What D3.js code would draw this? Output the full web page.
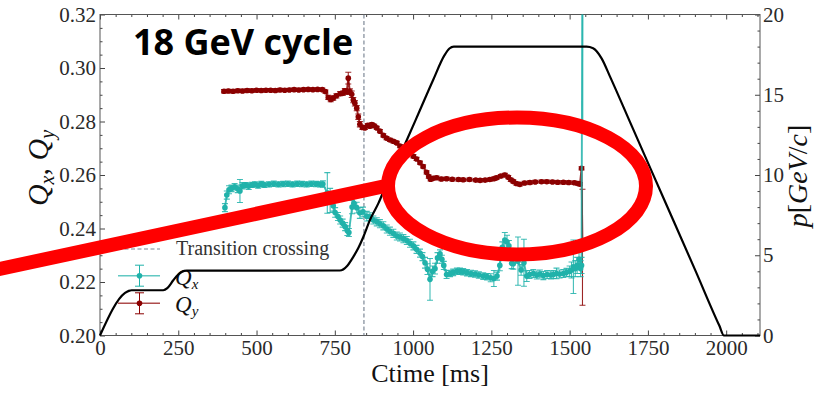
<!DOCTYPE html>
<html lang="en">
<head>
<meta charset="UTF-8">
<title>18 GeV cycle tunes</title>
<script src="https://cdn.jsdelivr.net/npm/d3@7/dist/d3.min.js"></script>
<style>
  body { margin: 0; background: #fff; }
  .tick text { font-family: "Liberation Serif", serif; font-size: 21px; fill: #2a2a2a; }
  .lbl { font-family: "Liberation Serif", serif; fill: #111; }
</style>
</head>
<body>
<svg id="main" width="833" height="393"></svg>
<script>
// ---- data ----
const xTicks = [0, 250, 500, 750, 1000, 1250, 1500, 1750, 2000];
const qTicks = [0.20, 0.22, 0.24, 0.26, 0.28, 0.30, 0.32];
const pTicks = [0, 5, 10, 15, 20];
const transitionTime = 843;

// Qx (horizontal tune)
const tQx = [399,405,412,420,430,440,447,455,465,475,485,495,505,515,525,540,555,570,585,600,615,630,645,660,675,690,703,712,726,735,745,751,760,767,775,783,790,795,805,811,820,830,840,852,862,873,884,894,905,916,926,937,948,958,969,980,990,1001,1011,1022,1030,1038,1046,1054,1062,1070,1078,1086,1092,1098,1107,1118,1128,1140,1150,1160,1172,1185,1198,1210,1224,1236,1248,1258,1268,1277,1285,1293,1300,1306,1315,1320,1335,1345,1354,1363,1372,1384,1395,1405,1416,1428,1440,1448,1458,1468,1480,1490,1500,1506,1512,1518,1524,1530,1535,1538,1542];
const qx = [0.2478,0.2525,0.2545,0.2550,0.2556,0.2548,0.2540,0.2560,0.2562,0.2558,
  0.2563,0.2565,0.2561,0.2566,0.2563,0.2565,0.2567,0.2565,0.2566,0.2567,
  0.2565,0.2567,0.2566,0.2565,0.2567,0.2566,0.2565,0.2566,0.2533,0.2505,
  0.2485,0.2460,0.2445,0.2432,0.2420,0.2407,0.2392,0.2385,0.2480,0.2494,
  0.2478,0.2458,0.2462,0.2446,0.2444,0.2432,0.2425,0.2418,0.2410,0.2398,
  0.2390,0.2382,0.2372,0.2368,0.2362,0.2355,0.2345,0.2335,0.2322,0.2308,
  0.2295,0.2272,0.2248,0.2210,0.2240,0.2250,0.2290,0.2305,0.2285,0.2262,
  0.2228,0.2232,0.2236,0.2240,0.2240,0.2238,0.2235,0.2232,0.2230,0.2226,
  0.2222,0.2220,0.2216,0.2213,0.2222,0.2262,0.2330,0.2357,0.2350,0.2335,
  0.2270,0.2268,0.2278,0.2245,0.2272,0.2222,0.2228,0.2232,0.2226,0.2230,
  0.2224,0.2228,0.2226,0.2228,0.2232,0.2230,0.2232,0.2236,0.2240,0.2245,
  0.2257,0.2250,0.2262,0.2285,0.2250,0.2262,0.4000];
const qxErr = [0.0015,0.0015,0.0015,0.0012,0.0012,0.0014,0.0043,0.0012,0.0010,0.0012,
  0.0010,0.0010,0.0010,0.0010,0.0010,0.0010,0.0010,0.0010,0.0010,0.0010,
  0.0010,0.0010,0.0010,0.0010,0.0010,0.0010,0.0010,0.0012,0.0076,0.0045,
  0.0020,0.0018,0.0015,0.0015,0.0015,0.0015,0.0018,0.0015,0.0025,0.0020,
  0.0020,0.0020,0.0018,0.0018,0.0015,0.0015,0.0015,0.0015,0.0015,0.0015,
  0.0015,0.0015,0.0015,0.0015,0.0015,0.0015,0.0015,0.0015,0.0015,0.0015,
  0.0015,0.0020,0.0020,0.0078,0.0020,0.0020,0.0020,0.0015,0.0015,0.0015,
  0.0015,0.0012,0.0012,0.0012,0.0012,0.0012,0.0012,0.0012,0.0012,0.0012,
  0.0012,0.0012,0.0015,0.0030,0.0015,0.0020,0.0020,0.0028,0.0025,0.0020,
  0.0020,0.0020,0.0090,0.0020,0.0088,0.0020,0.0015,0.0015,0.0015,0.0015,
  0.0015,0.0015,0.0015,0.0015,0.0020,0.0015,0.0015,0.0015,0.0020,0.0030,
  0.0100,0.0030,0.0030,0.0030,0.0030,0.0030,0.1242];

// Qy (vertical tune)
const tQy = [396,410,425,440,455,470,485,500,515,530,545,560,575,590,605,620,635,650,665,680,695,710,720,729,737,745,755,767,776,782,788,793,798,804,809,814,820,825,830,838,846,855,862,868,876,884,894,905,915,926,937,948,958,969,980,990,1001,1011,1022,1032,1043,1050,1056,1064,1075,1090,1107,1125,1145,1160,1180,1200,1214,1230,1245,1258,1267,1280,1293,1304,1312,1320,1330,1341,1356,1373,1390,1410,1427,1445,1462,1480,1497,1515,1527,1533,1538,1541];
const qy = [0.2913,0.2914,0.2913,0.2915,0.2914,0.2916,0.2915,0.2917,0.2916,0.2917,
  0.2917,0.2916,0.2918,0.2917,0.2918,0.2919,0.2918,0.2919,0.2920,0.2919,
  0.2920,0.2919,0.2912,0.2890,0.2882,0.2888,0.2896,0.2904,0.2906,0.2915,
  0.2910,0.2962,0.2912,0.2902,0.2880,0.2868,0.2850,0.2818,0.2790,0.2778,
  0.2776,0.2786,0.2782,0.2789,0.2784,0.2776,0.2764,0.2748,0.2738,0.2731,
  0.2726,0.2720,0.2708,0.2700,0.2692,0.2682,0.2670,0.2660,0.2646,0.2632,
  0.2610,0.2594,0.2584,0.2588,0.2590,0.2585,0.2586,0.2584,0.2583,0.2582,
  0.2583,0.2581,0.2580,0.2581,0.2583,0.2586,0.2590,0.2596,0.2600,0.2592,
  0.2582,0.2576,0.2568,0.2565,0.2570,0.2572,0.2574,0.2575,0.2575,0.2574,
  0.2573,0.2573,0.2572,0.2571,0.2568,0.2566,0.2625,0.2330];
const qyErr = [0.0006,0.0006,0.0006,0.0006,0.0006,0.0006,0.0006,0.0006,0.0006,0.0006,
  0.0006,0.0006,0.0006,0.0006,0.0006,0.0006,0.0006,0.0006,0.0006,0.0006,
  0.0006,0.0006,0.0006,0.0008,0.0008,0.0008,0.0008,0.0008,0.0008,0.0008,
  0.0008,0.0022,0.0010,0.0012,0.0010,0.0010,0.0010,0.0010,0.0010,0.0008,
  0.0006,0.0006,0.0006,0.0006,0.0006,0.0006,0.0006,0.0006,0.0006,0.0006,
  0.0006,0.0006,0.0006,0.0006,0.0006,0.0006,0.0006,0.0006,0.0006,0.0006,
  0.0006,0.0006,0.0006,0.0006,0.0006,0.0006,0.0006,0.0006,0.0006,0.0006,
  0.0006,0.0006,0.0006,0.0006,0.0006,0.0006,0.0006,0.0006,0.0006,0.0006,
  0.0006,0.0006,0.0006,0.0006,0.0006,0.0006,0.0006,0.0006,0.0006,0.0006,
  0.0006,0.0006,0.0006,0.0006,0.0006,0.0006,0.0006,0.0217];

// momentum ramp p [GeV/c] (right axis)
const tP = [0,80,92,101,202,215,234,250,261,277,766,790,809,825,841,862,889,916,980,1022,1064,1100,1116,1130,1554,1575,1602,1629,1700,1800,1900,1978,1993,2108];
const pVal = [0,2.65,2.78,2.82,2.82,2.95,3.44,3.8,3.96,4.04,4.05,4.35,4.9,5.45,6.14,7.19,8.23,9.48,12.18,14.05,15.92,17.45,17.88,18.0,18.0,17.9,17.27,16.13,12.98,8.55,4.12,0.62,0,0];

// ---- layout ----
let svg = d3.select('svg#main');
let plot = {left: 100, right: 760, top: 14.5, bottom: 335.5};
const teal = '#20b2aa', maroon = '#8b0000', dashGrey = '#7d8896';

let x = d3.scaleLinear().domain([0, 2108]).range([plot.left, plot.right]);
let yQ = d3.scaleLinear().domain([0.20, 0.32]).range([plot.bottom, plot.top]);
let yP = d3.scaleLinear().domain([0, 20]).range([plot.bottom, plot.top]);

svg.append('rect').attr('width', 833).attr('height', 393).attr('fill', '#fff');
svg.append('clipPath').attr('id', 'clip')
  .append('rect')
  .attr('x', plot.left).attr('y', plot.top)
  .attr('width', plot.right - plot.left).attr('height', plot.bottom - plot.top);
// the ramp may sit on the bottom spine, give it room for its stroke
svg.append('clipPath').attr('id', 'clipP')
  .append('rect')
  .attr('x', plot.left - 2).attr('y', plot.top)
  .attr('width', plot.right - plot.left + 2).attr('height', plot.bottom - plot.top + 1.5);

// axes, ticks pointing inward
function tidy(g){
  g.select('.domain').remove();
  g.selectAll('line').attr('stroke', '#444');
  g.attr('font-family', null).attr('font-size', null);
}
let minorX = d3.range(50, 2108, 50).filter(d => d % 250 !== 0);
let minorQ = d3.range(1, 24).filter(k => k % 4 !== 0).map(k => 0.20 + k * 0.005);
let minorP = d3.range(1, 20, 1).filter(d => d % 5 !== 0);

svg.append('g').attr('transform', `translate(0,${plot.bottom})`)
  .call(d3.axisBottom(x).tickValues(xTicks).tickSizeInner(-5).tickSizeOuter(0).tickPadding(5).tickFormat(d3.format('d')))
  .call(tidy);
svg.append('g').attr('transform', `translate(0,${plot.bottom})`)
  .call(d3.axisBottom(x).tickValues(minorX).tickSizeInner(-2.5).tickSizeOuter(0).tickFormat(''))
  .call(tidy);
svg.append('g').attr('transform', `translate(0,${plot.top})`)
  .call(d3.axisTop(x).tickValues(xTicks).tickSizeInner(-5).tickSizeOuter(0).tickFormat(''))
  .call(tidy);
svg.append('g').attr('transform', `translate(0,${plot.top})`)
  .call(d3.axisTop(x).tickValues(minorX).tickSizeInner(-2.5).tickSizeOuter(0).tickFormat(''))
  .call(tidy);
svg.append('g').attr('transform', `translate(${plot.left},0)`)
  .call(d3.axisLeft(yQ).tickValues(qTicks).tickSizeInner(-5).tickSizeOuter(0).tickPadding(4).tickFormat(d3.format('.2f')))
  .call(tidy);
svg.append('g').attr('transform', `translate(${plot.left},0)`)
  .call(d3.axisLeft(yQ).tickValues(minorQ).tickSizeInner(-2.5).tickSizeOuter(0).tickFormat(''))
  .call(tidy);
svg.append('g').attr('transform', `translate(${plot.right},0)`)
  .call(d3.axisRight(yP).tickValues(pTicks).tickSizeInner(-5).tickSizeOuter(0).tickPadding(3).tickFormat(d3.format('d')))
  .call(tidy);
svg.append('g').attr('transform', `translate(${plot.right},0)`)
  .call(d3.axisRight(yP).tickValues(minorP).tickSizeInner(-2.5).tickSizeOuter(0).tickFormat(''))
  .call(tidy);

svg.append('rect')
  .attr('x', plot.left).attr('y', plot.top)
  .attr('width', plot.right - plot.left).attr('height', plot.bottom - plot.top)
  .attr('fill', 'none').attr('stroke', '#555').attr('stroke-width', 1);

let data = svg.append('g').attr('clip-path', 'url(#clip)');

// transition crossing
data.append('line')
  .attr('x1', x(transitionTime)).attr('x2', x(transitionTime))
  .attr('y1', plot.top).attr('y2', plot.bottom)
  .attr('stroke', dashGrey).attr('stroke-width', 1.2).attr('stroke-dasharray', '4,2.5');

// error bar series
function drawSeries(t, q, e, color){
  let g = data.append('g');
  let idx = d3.range(t.length);
  g.append('path')
    .attr('d', d3.line().x(i => x(t[i])).y(i => yQ(q[i]))(idx))
    .attr('fill', 'none').attr('stroke', color).attr('stroke-width', 1.9).attr('stroke-opacity', 0.85);
  let bars = g.selectAll('g.bar').data(idx).enter().append('g').attr('class', 'bar')
    .attr('stroke', color).attr('stroke-width', 1.1).attr('stroke-opacity', 0.85);
  bars.append('line')
    .attr('x1', i => x(t[i])).attr('x2', i => x(t[i]))
    .attr('y1', i => yQ(q[i] - e[i])).attr('y2', i => yQ(q[i] + e[i]));
  bars.append('line')
    .attr('x1', i => x(t[i]) - 3).attr('x2', i => x(t[i]) + 3)
    .attr('y1', i => yQ(q[i] - e[i])).attr('y2', i => yQ(q[i] - e[i]));
  bars.append('line')
    .attr('x1', i => x(t[i]) - 3).attr('x2', i => x(t[i]) + 3)
    .attr('y1', i => yQ(q[i] + e[i])).attr('y2', i => yQ(q[i] + e[i]));
  g.selectAll('circle').data(idx).enter().append('circle')
    .attr('cx', i => x(t[i])).attr('cy', i => yQ(q[i])).attr('r', 2.8)
    .attr('fill', color);
}
drawSeries(tQy, qy, qyErr, maroon);
drawSeries(tQx, qx, qxErr, teal);

// legend
let leg = svg.append('g');
leg.append('line').attr('x1', 118).attr('x2', 160).attr('y1', 249).attr('y2', 249)
  .attr('stroke', dashGrey).attr('stroke-width', 1.2).attr('stroke-dasharray', '4,2.5');
leg.append('text').attr('class', 'lbl').attr('x', 176).attr('y', 255)
  .style('font-size', '20px').style('fill', '#333').text('Transition crossing');
[[teal, 275.7, 'x'], [maroon, 303.3, 'y']].forEach(function(d){
  let g = leg.append('g').attr('stroke', d[0]);
  g.append('line').attr('x1', 118).attr('x2', 160).attr('y1', d[1]).attr('y2', d[1]).attr('stroke-opacity', 0.7).attr('stroke-width', 1.6);
  g.append('line').attr('x1', 139.5).attr('x2', 139.5).attr('y1', d[1] - 10.5).attr('y2', d[1] + 10.5);
  g.append('line').attr('x1', 135).attr('x2', 144).attr('y1', d[1] - 10.5).attr('y2', d[1] - 10.5);
  g.append('line').attr('x1', 135).attr('x2', 144).attr('y1', d[1] + 10.5).attr('y2', d[1] + 10.5);
  g.append('circle').attr('cx', 139.5).attr('cy', d[1]).attr('r', 2.8).attr('fill', d[0]).attr('stroke', 'none');
  let txt = leg.append('text').attr('class', 'lbl').attr('x', 175).attr('y', d[1] + 9).style('font-size', '23px');
  txt.append('tspan').style('font-style', 'italic').text('Q');
  txt.append('tspan').style('font-style', 'italic').style('font-size', '15px').attr('dy', 4).text(d[2]);
});

// momentum ramp on top (twin axis)
svg.append('g').attr('clip-path', 'url(#clipP)').append('path')
  .attr('d', d3.line().x((d, i) => x(tP[i])).y((d, i) => yP(pVal[i])).curve(d3.curveMonotoneX)(tP))
  .attr('fill', 'none').attr('stroke', '#000').attr('stroke-width', 2.2);

// axis labels
svg.append('text').attr('class', 'lbl').attr('x', (plot.left + plot.right) / 2).attr('y', 382)
  .attr('text-anchor', 'middle').style('font-size', '26px').text('Ctime [ms]');

let yl = svg.append('text').attr('class', 'lbl').attr('text-anchor', 'middle')
  .attr('transform', 'translate(48,168) rotate(-90)').style('font-size', '30px');
yl.append('tspan').style('font-style', 'italic').text('Q');
yl.append('tspan').style('font-style', 'italic').style('font-size', '20px').attr('dy', 6).text('x');
yl.append('tspan').attr('dy', -6).text(', ');
yl.append('tspan').style('font-style', 'italic').text('Q');
yl.append('tspan').style('font-style', 'italic').style('font-size', '20px').attr('dy', 6).text('y');

let yr = svg.append('text').attr('class', 'lbl').attr('text-anchor', 'middle')
  .attr('transform', 'translate(807,176) rotate(-90)').style('font-size', '28px');
yr.append('tspan').style('font-style', 'italic').text('p');
yr.append('tspan').text('[');
yr.append('tspan').style('font-style', 'italic').text('GeV');
yr.append('tspan').text('/');
yr.append('tspan').style('font-style', 'italic').text('c');
yr.append('tspan').text(']');

// slide annotation drawn over the figure
svg.append('text').attr('x', 133).attr('y', 55)
  .style('font-family', '"Open Sans", sans-serif').style('font-weight', 700).style('font-size', '36px')
  .attr('fill', '#000').text('18 GeV cycle');
svg.append('line').attr('x1', -5).attr('y1', 270).attr('x2', 390).attr('y2', 185)
  .attr('stroke', '#ff0000').attr('stroke-width', 14);
svg.append('ellipse').attr('cx', 517).attr('cy', 186).attr('rx', 129).attr('ry', 68.5)
  .attr('fill', 'none').attr('stroke', '#ff0000').attr('stroke-width', 14);
</script>
</body>
</html>
